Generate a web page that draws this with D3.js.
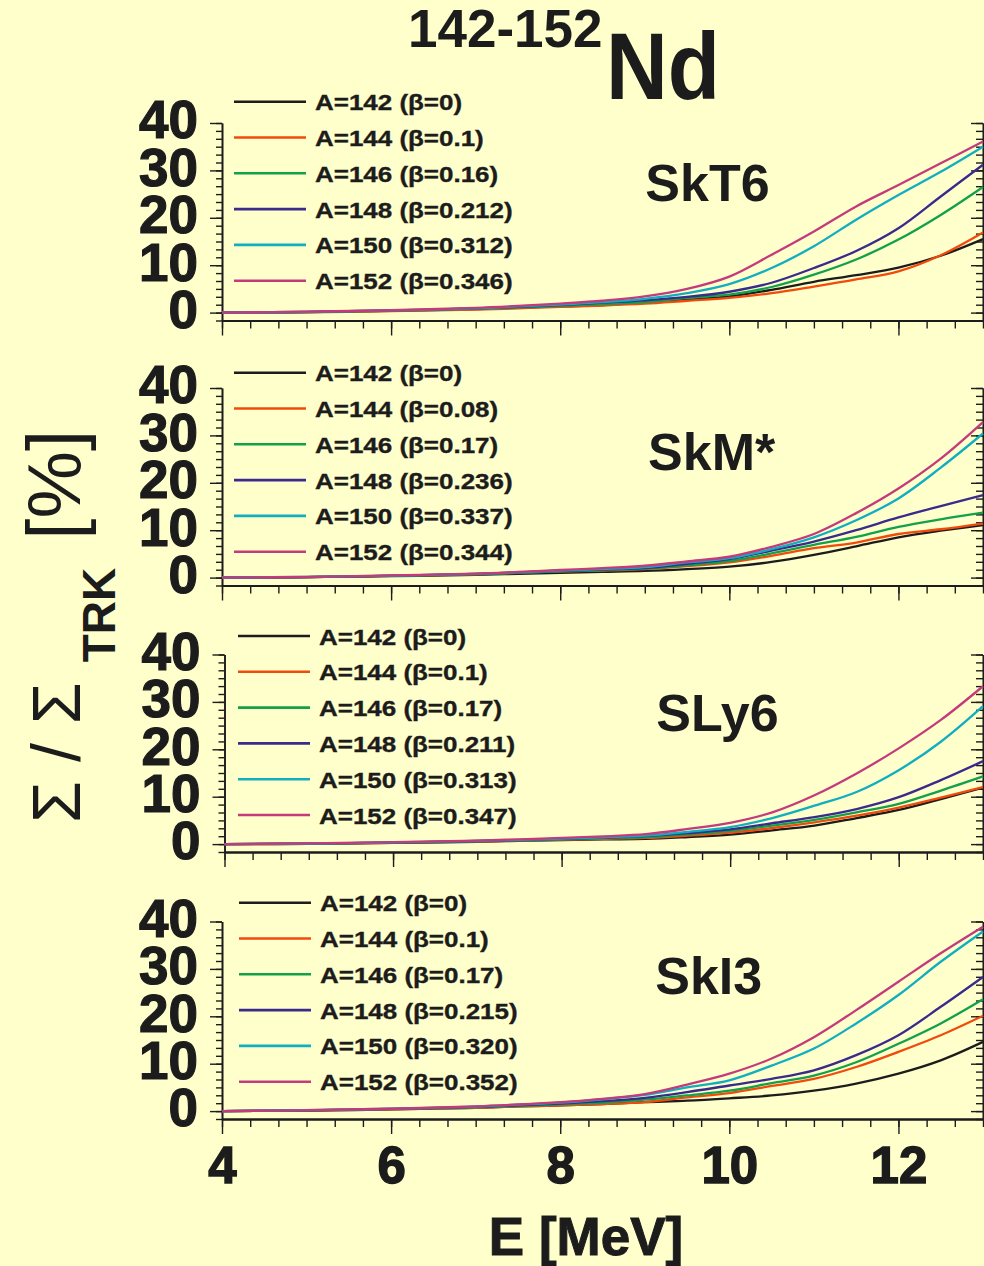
<!DOCTYPE html>
<html>
<head>
<meta charset="utf-8">
<script src="https://cdn.jsdelivr.net/npm/d3@7"></script>
<style>
  html, body { margin: 0; padding: 0; background: #ffffcc; }
  svg { display: block; }
</style>
</head>
<body>
<script>
// ---- data -------------------------------------------------------------
const energies = [4, 5, 6, 7, 7.5, 8, 8.5, 9, 9.5, 10, 10.5, 11, 11.5, 12, 12.5, 13];
const massNumbers = [142, 144, 146, 148, 150, 152];
const forces = ["SkT6", "SkM*", "SLy6", "SkI3"];

const betaSkT6 = ["0", "0.1", "0.16", "0.212", "0.312", "0.346"];
const betaSkM = ["0", "0.08", "0.17", "0.236", "0.337", "0.344"];
const betaSLy6 = ["0", "0.1", "0.17", "0.211", "0.313", "0.347"];
const betaSkI3 = ["0", "0.1", "0.17", "0.215", "0.320", "0.352"];

// cumulative strength ratio (%) vs energy, one row per isotope 142..152
const ratioSkT6 = [
  [0, 0.1, 0.35, 0.75, 1.0, 1.3, 1.6, 2.1, 2.7, 3.4, 4.8, 6.5, 7.9, 9.5, 12.0, 15.5],
  [0, 0.05, 0.3, 0.65, 0.9, 1.2, 1.5, 1.9, 2.5, 3.1, 4.1, 5.5, 7.0, 8.7, 12.1, 16.9],
  [0, 0.1, 0.4, 0.8, 1.1, 1.4, 1.8, 2.2, 3.1, 3.8, 5.4, 8.0, 11.2, 15.4, 20.6, 26.5],
  [0, 0.15, 0.45, 0.9, 1.2, 1.6, 2.1, 2.6, 3.3, 4.4, 6.3, 9.4, 13.0, 17.8, 24.5, 31.2],
  [0, 0.15, 0.45, 0.9, 1.3, 1.7, 2.2, 2.9, 4.1, 6.0, 9.4, 14.0, 19.6, 24.8, 29.7, 35.0],
  [0, 0.2, 0.5, 1.0, 1.4, 1.9, 2.5, 3.4, 5.0, 7.6, 12.2, 17.1, 22.4, 26.9, 31.5, 36.1]
];
const ratioSkM = [
  [0, 0.1, 0.3, 0.6, 0.8, 1.0, 1.2, 1.4, 1.8, 2.3, 3.3, 4.8, 6.6, 8.5, 9.9, 11.1],
  [0, 0.1, 0.35, 0.7, 1.0, 1.3, 1.5, 1.8, 2.4, 3.2, 4.6, 6.2, 7.4, 9.2, 10.2, 11.4],
  [0, 0.1, 0.35, 0.75, 1.0, 1.3, 1.6, 1.9, 2.6, 3.5, 5.1, 6.9, 8.6, 10.7, 12.3, 13.7],
  [0, 0.1, 0.4, 0.8, 1.1, 1.4, 1.7, 2.0, 2.9, 3.9, 5.7, 7.6, 10.0, 12.7, 15.1, 17.4],
  [0, 0.15, 0.4, 0.8, 1.1, 1.5, 1.8, 2.2, 3.2, 4.1, 6.0, 8.5, 12.1, 16.7, 23.2, 30.4],
  [0, 0.15, 0.45, 0.85, 1.2, 1.6, 2.0, 2.5, 3.4, 4.4, 6.5, 9.2, 13.6, 18.8, 25.1, 32.8]
];
const ratioSLy6 = [
  [0, 0.05, 0.25, 0.5, 0.7, 0.85, 1.0, 1.1, 1.5, 2.0, 2.9, 3.9, 5.5, 7.2, 9.5, 11.9],
  [0, 0.05, 0.25, 0.55, 0.75, 0.95, 1.1, 1.3, 1.8, 2.4, 3.4, 4.6, 6.0, 7.7, 9.8, 12.0],
  [0, 0.1, 0.3, 0.6, 0.8, 1.0, 1.25, 1.5, 2.1, 2.8, 3.9, 5.1, 6.7, 8.5, 11.3, 14.3],
  [0, 0.1, 0.3, 0.65, 0.85, 1.1, 1.35, 1.7, 2.3, 3.1, 4.4, 5.7, 7.4, 9.9, 13.5, 17.5],
  [0, 0.1, 0.35, 0.7, 0.9, 1.15, 1.45, 1.8, 2.6, 3.6, 5.5, 8.1, 11.0, 15.6, 21.6, 29.1],
  [0, 0.15, 0.4, 0.75, 1.0, 1.3, 1.65, 2.1, 3.2, 4.5, 6.7, 10.3, 14.9, 20.2, 26.2, 33.3]
];
const ratioSkI3 = [
  [0, 0.1, 0.35, 0.7, 1.0, 1.2, 1.5, 1.9, 2.2, 2.7, 3.3, 4.3, 5.8, 7.9, 10.7, 14.6],
  [0, 0.1, 0.35, 0.7, 1.0, 1.2, 1.5, 1.9, 2.9, 3.8, 5.3, 6.8, 9.3, 12.5, 16.0, 20.1],
  [0, 0.15, 0.4, 0.8, 1.1, 1.4, 1.8, 2.4, 3.3, 4.3, 5.9, 7.5, 10.3, 14.2, 18.5, 23.6],
  [0, 0.15, 0.45, 0.9, 1.2, 1.6, 2.1, 2.8, 4.0, 5.4, 6.8, 8.6, 11.8, 16.0, 22.0, 28.3],
  [0, 0.2, 0.5, 0.95, 1.35, 1.8, 2.5, 3.4, 5.0, 6.5, 9.6, 13.2, 18.5, 24.5, 31.5, 37.9],
  [0, 0.2, 0.5, 1.0, 1.4, 1.9, 2.6, 3.6, 5.6, 7.9, 11.1, 15.6, 21.3, 27.3, 33.3, 38.9]
];

const yTickValues = [0, 10, 20, 30, 40];
const xTickValues = [4, 6, 8, 10, 12];

// ---- styles & layout --------------------------------------------------
const seriesColors = ["#1c1c1c", "#f24a0c", "#12a04a", "#3a2a8c", "#10aec0", "#c43a7c"];
const ink = "#1c1c1c";
const font = "'Liberation Sans', Arial, Helvetica, sans-serif";

const panels = [
  { name: forces[0], betas: betaSkT6, rows: ratioSkT6 },
  { name: forces[1], betas: betaSkM, rows: ratioSkM },
  { name: forces[2], betas: betaSLy6, rows: ratioSLy6 },
  { name: forces[3], betas: betaSkI3, rows: ratioSkI3 }
];
const layout = {
  tops: [123, 388, 654.5, 921.5],
  lefts: [222, 222, 224.5, 222],
  right: 983,
  height: 197.5,
  legendTop: [101.7, 372.7, 636, 902.7],
  legendLeft: [234, 234, 238, 239],
  nameX: [707.5, 711.7, 717.5, 708.7],
  nameY: [200.7, 470, 730.7, 994]
};

const W = 984, H = 1266;
const svg = d3.select("body").append("svg")
  .attr("width", W).attr("height", H)
  .attr("viewBox", `0 0 ${W} ${H}`);

svg.append("rect").attr("width", W).attr("height", H).attr("fill", "#ffffcc");

const yMin = -10 / 6;
const minorY = d3.range(0, 26).map(k => yMin + k * 10 / 6);
const minorX = d3.range(0, 28).map(k => 4 + k / 3);

function styleAxis(sel, width) {
  sel.selectAll("path.domain").attr("stroke", ink).attr("stroke-width", width);
  sel.selectAll(".tick line").attr("stroke", ink).attr("stroke-width", 1.4);
}

panels.forEach((p, i) => {
  const top = layout.tops[i];
  const left = layout.lefts[i];
  const bottom = top + layout.height;
  const x = d3.scaleLinear().domain([4, 13]).range([left, layout.right]);
  const y = d3.scaleLinear().domain([yMin, 40]).range([bottom, top]);
  const g = svg.append("g");
  const isLast = i === panels.length - 1;

  // left axis: minor, then major with labels
  const lMinor = g.append("g").attr("transform", `translate(${left},0)`)
    .call(d3.axisLeft(y).tickValues(minorY).tickSize(6).tickSizeOuter(0).tickFormat(""));
  styleAxis(lMinor, 1.6);
  const lMajor = g.append("g").attr("transform", `translate(${left},0)`)
    .call(d3.axisLeft(y).tickValues(yTickValues).tickSize(12).tickSizeOuter(0).tickPadding(12).tickFormat(d3.format("d")));
  styleAxis(lMajor, 1.6);
  lMajor.selectAll(".tick text")
    .attr("dy", "0.28em")
    .attr("fill", ink).attr("stroke", ink).attr("stroke-width", 1.2)
    .style("font-family", font).style("font-weight", "bold").style("font-size", "53px");

  // right axis, ticks pointing inward
  const rMinor = g.append("g").attr("transform", `translate(${layout.right},0)`)
    .call(d3.axisLeft(y).tickValues(minorY).tickSize(7).tickSizeOuter(0).tickFormat(""));
  styleAxis(rMinor, 1.6);
  const rMajor = g.append("g").attr("transform", `translate(${layout.right},0)`)
    .call(d3.axisLeft(y).tickValues(yTickValues).tickSize(12).tickSizeOuter(0).tickFormat(""));
  styleAxis(rMajor, 1.6);

  // bottom axis
  const bMinor = g.append("g").attr("transform", `translate(0,${bottom})`)
    .call(d3.axisBottom(x).tickValues(minorX).tickSize(8).tickSizeOuter(0).tickFormat(""));
  styleAxis(bMinor, 1.8);
  const bMajor = g.append("g").attr("transform", `translate(0,${bottom})`)
    .call(d3.axisBottom(x).tickValues(xTickValues).tickSize(15).tickSizeOuter(0).tickPadding(13)
      .tickFormat(isLast ? d3.format("d") : ""));
  styleAxis(bMajor, 1.8);
  bMajor.selectAll(".tick text")
    .attr("fill", ink).attr("stroke", ink).attr("stroke-width", 1.4)
    .style("font-family", font).style("font-weight", "bold").style("font-size", "51px");

  // curves
  const line = d3.line()
    .x((d, k) => x(energies[k]))
    .y(d => y(d))
    .curve(d3.curveCatmullRom.alpha(0.5));
  g.append("g").selectAll("path")
    .data(p.rows)
    .join("path")
    .attr("d", d => line(d))
    .attr("fill", "none")
    .attr("stroke", (d, k) => seriesColors[k])
    .attr("stroke-width", 2.3)
    .attr("stroke-linejoin", "round");

  // legend
  const lg = g.append("g");
  massNumbers.forEach((m, k) => {
    const ry = layout.legendTop[i] + k * 35.8;
    const lx = layout.legendLeft[i];
    lg.append("line")
      .attr("x1", lx).attr("x2", lx + 72).attr("y1", ry).attr("y2", ry)
      .attr("stroke", seriesColors[k]).attr("stroke-width", 2.6);
    lg.append("text")
      .attr("transform", `translate(${lx + 81},${ry + 8.5}) scale(1.18,1)`)
      .attr("fill", ink).attr("stroke", ink).attr("stroke-width", 0.35)
      .style("font-family", font).style("font-weight", "bold").style("font-size", "22px")
      .text(`A=${m} (\u03b2=${p.betas[k]})`);
  });

  // force name
  g.append("text")
    .attr("x", layout.nameX[i]).attr("y", layout.nameY[i])
    .attr("text-anchor", "middle")
    .attr("fill", ink)
    .style("font-family", font).style("font-weight", "bold").style("font-size", "52px")
    .text(p.name);
});

// title: 142-152Nd
svg.append("text")
  .attr("x", 408).attr("y", 46.7)
  .attr("fill", ink)
  .style("font-family", font).style("font-weight", "bold").style("font-size", "53px")
  .text("142-152");
svg.append("text")
  .attr("transform", "translate(606,99) scale(0.91,1)")
  .attr("fill", ink)
  .style("font-family", font).style("font-weight", "bold").style("font-size", "94px")
  .text("Nd");

// x-axis title
svg.append("text")
  .attr("x", 586).attr("y", 1255)
  .attr("text-anchor", "middle")
  .attr("fill", ink).attr("stroke", ink).attr("stroke-width", 1)
  .style("font-family", font).style("font-weight", "bold").style("font-size", "53px")
  .text("E [MeV]");

// y-axis title: Σ / Σ_TRK [%]
const yt = svg.append("text")
  .attr("transform", "translate(80,823) rotate(-90)")
  .attr("fill", ink)
  .style("font-family", font);
yt.append("tspan").style("font-size", "68px").text("\u03a3 / \u03a3");
yt.append("tspan").attr("dx", 20).attr("dy", 35)
  .style("font-size", "46px").style("font-weight", "bold").text("TRK");
yt.append("tspan").attr("dx", 28).attr("dy", -35)
  .style("font-size", "76px").text("[%]");
</script>
</body>
</html>
